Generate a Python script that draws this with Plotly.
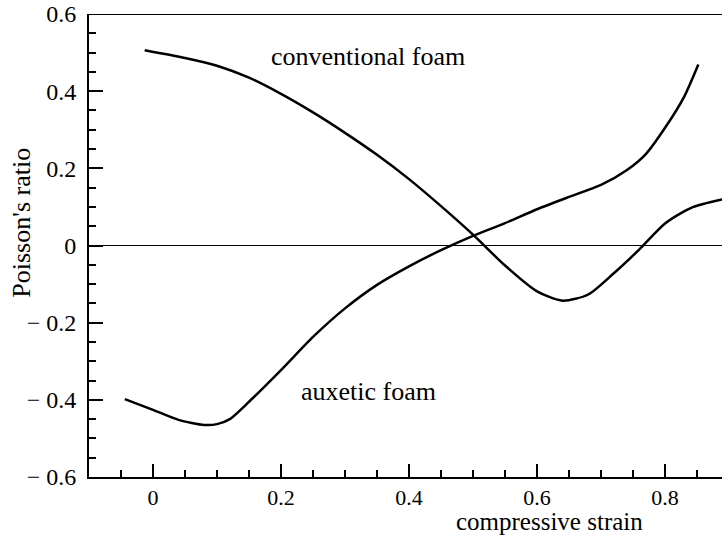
import plotly.graph_objects as go

# Data
conv_x = [-0.013, 0.05, 0.10, 0.15, 0.20, 0.25, 0.30, 0.35, 0.40, 0.45, 0.50,
          0.55, 0.60, 0.64, 0.68, 0.72, 0.76, 0.80, 0.84, 0.889, 0.91]
conv_y = [0.506, 0.486, 0.466, 0.435, 0.393, 0.345, 0.292, 0.235, 0.172, 0.102, 0.028,
          -0.052, -0.119, -0.143, -0.127, -0.072, -0.010, 0.057, 0.097, 0.119, 0.125]

aux_x = [-0.044, 0.0, 0.04, 0.08, 0.10, 0.12, 0.15, 0.20, 0.25, 0.30, 0.35, 0.40,
         0.45, 0.50, 0.55, 0.60, 0.65, 0.70, 0.74, 0.77, 0.80, 0.83, 0.852]
aux_y = [-0.398, -0.426, -0.452, -0.465, -0.463, -0.450, -0.405, -0.323, -0.237, -0.163,
         -0.102, -0.054, -0.012, 0.025, 0.058, 0.094, 0.126, 0.157, 0.195, 0.237,
         0.305, 0.386, 0.469]

x_tickvals = [0, 0.2, 0.4, 0.6, 0.8]
x_ticktext = ["0", "0.2", "0.4", "0.6", "0.8"]
y_tickvals = [-0.6, -0.4, -0.2, 0, 0.2, 0.4, 0.6]
y_ticktext = ["\u2212 0.6", "\u2212 0.4", "\u2212 0.2", "0", "0.2", "0.4", "0.6"]

FONT = "Liberation Serif"

fig = go.Figure()
fig.add_trace(go.Scatter(x=conv_x, y=conv_y, mode="lines",
                         line=dict(color="black", width=2.5, shape="spline", smoothing=0.7),
                         showlegend=False, hoverinfo="skip"))
fig.add_trace(go.Scatter(x=aux_x, y=aux_y, mode="lines",
                         line=dict(color="black", width=2.5, shape="spline", smoothing=0.7),
                         showlegend=False, hoverinfo="skip"))

fig.update_layout(
    width=722, height=537,
    margin=dict(l=89, r=0, t=14, b=60),
    paper_bgcolor="white", plot_bgcolor="white",
    font=dict(family=FONT, size=22, color="black"),
    xaxis=dict(range=[-0.1, 0.889], showgrid=False, zeroline=False,
               showline=True, linecolor="black", linewidth=2,
               tickvals=x_tickvals, ticktext=x_ticktext,
               ticks="inside", ticklen=13, tickwidth=2, tickcolor="black",
               minor=dict(dtick=0.05, tick0=0, ticks="inside", ticklen=7,
                          tickwidth=2, tickcolor="black", showgrid=False),
               ticklabelstandoff=0,
               tickfont=dict(family=FONT, size=22, color="black")),
    yaxis=dict(range=[-0.6, 0.6], showgrid=False,
               zeroline=True, zerolinecolor="black", zerolinewidth=1.2,
               showline=True, linecolor="black", linewidth=2,
               tickvals=y_tickvals, ticktext=y_ticktext,
               ticks="inside", ticklen=14, tickwidth=2, tickcolor="black",
               minor=dict(dtick=0.05, tick0=0, ticks="inside", ticklen=7,
                          tickwidth=2, tickcolor="black", showgrid=False),
               ticklabelstandoff=6,
               tickfont=dict(family=FONT, size=24, color="black")),
    shapes=[dict(type="line", xref="paper", yref="y", x0=0, x1=1, y0=0.6, y1=0.6,
                 line=dict(color="black", width=2))],
    annotations=[
        dict(text="conventional foam", x=0.336, y=0.489, xref="x", yref="y",
             showarrow=False, xanchor="center", yanchor="middle",
             font=dict(family=FONT, size=26, color="black")),
        dict(text="auxetic foam", x=0.3364, y=-0.379, xref="x", yref="y",
             showarrow=False, xanchor="center", yanchor="middle",
             font=dict(family=FONT, size=26, color="black")),
        dict(text="compressive strain", x=0.620, y=-0.097, xref="x", yref="paper",
             showarrow=False, xanchor="center", yanchor="middle",
             font=dict(family=FONT, size=25, color="black")),
        dict(text="Poisson's ratio", x=-0.106, y=0.549, xref="paper", yref="paper",
             showarrow=False, xanchor="center", yanchor="middle", textangle=-90,
             font=dict(family=FONT, size=26, color="black")),
    ],
)

fig.write_html("out.html")
